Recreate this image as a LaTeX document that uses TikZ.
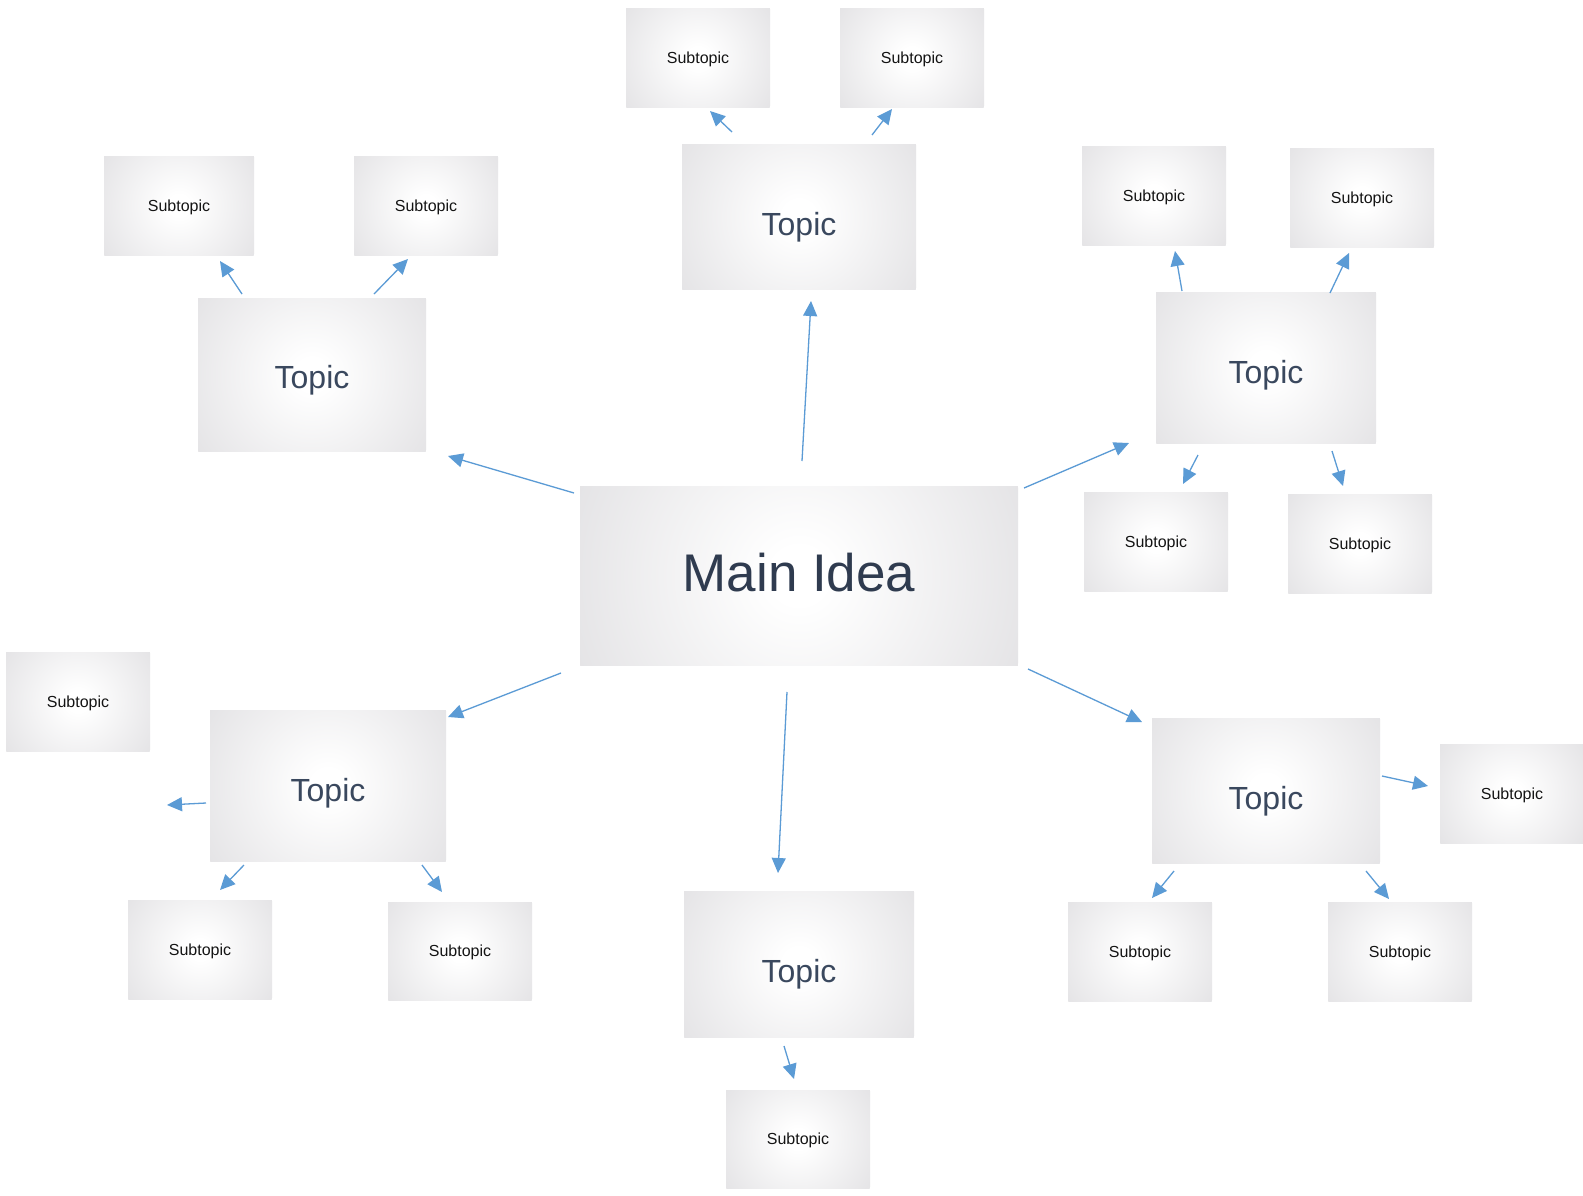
\documentclass[tikz,border=0pt]{standalone}
\usepackage{fontspec}
\setmainfont{Liberation Sans}
\usetikzlibrary{arrows.meta,calc}
\definecolor{boxgray}{RGB}{218,217,220}
\definecolor{arrowblue}{RGB}{91,155,213}
\definecolor{topictext}{RGB}{58,72,94}
\definecolor{maintext}{RGB}{47,59,79}
\definecolor{subtext}{RGB}{20,20,20}
\pgfdeclareradialshading{boxshade}{\pgfpoint{0bp}{0bp}}{color(0bp)=(white); color(3bp)=(white); color(34bp)=(boxgray); color(50bp)=(boxgray)}
\tikzset{
  shadedbox/.style={rectangle, inner sep=0pt, draw=none,
    path picture={\shade[shading=boxshade]
      let \p1=(path picture bounding box.north east),
          \p2=(path picture bounding box.center),
          \n1={veclen(\x1-\x2,\y1-\y2)} in (\p2) circle[radius=\n1];}},
  subbox/.style={shadedbox, minimum width=144pt, minimum height=99pt,
    font=\fontsize{16}{19}\selectfont, text=subtext, text height=11.5pt, text depth=0pt},
  topicbox/.style={shadedbox, font=\fontsize{32}{38}\selectfont, text=topictext,
    text height=33.9pt, text depth=0pt},
  mainbox/.style={shadedbox, minimum width=438pt, minimum height=179pt,
    font=\fontsize{53}{62}\selectfont, text=maintext, text height=37.9pt, text depth=5pt},
  link/.style={draw=arrowblue, line width=1.3pt, -{Triangle[length=15pt,width=14pt]}},
}
\begin{document}
\begin{tikzpicture}[x=1pt,y=-1pt]
\useasboundingbox (0,0) rectangle (1583,1195);
\fill[white] (0,0) rectangle (1583,1195);

% main
\node[mainbox] (main) at (799,575.5) {Main Idea};

% top topic
\node[topicbox, minimum width=234pt, minimum height=145pt, text height=37pt] (t1) at (799,216.5) {Topic};
\node[subbox] (t1a) at (698,57.5) {Subtopic};
\node[subbox] (t1b) at (912,57.5) {Subtopic};

% top-left topic
\node[topicbox, minimum width=228pt, minimum height=153pt, text height=28pt] (t2) at (312,374.5) {Topic};
\node[subbox, minimum width=150pt] (t2a) at (179,205.5) {Subtopic};
\node[subbox] (t2b) at (426,205.5) {Subtopic};

% top-right topic
\node[topicbox, minimum width=220pt, minimum height=151pt, text height=31pt] (t3) at (1266,367.5) {Topic};
\node[subbox] (t3a) at (1154,195.5) {Subtopic};
\node[subbox] (t3b) at (1362,197.5) {Subtopic};
\node[subbox] (t3c) at (1156,541.5) {Subtopic};
\node[subbox] (t3d) at (1360,543.5) {Subtopic};

% bottom-right topic
\node[topicbox, minimum width=228pt, minimum height=145pt, text height=38pt] (t4) at (1266,790.5) {Topic};
\node[subbox] (t4a) at (1512,793.5) {Subtopic};
\node[subbox] (t4b) at (1140,951.5) {Subtopic};
\node[subbox] (t4c) at (1400,951.5) {Subtopic};

% bottom topic
\node[topicbox, minimum width=230pt, minimum height=146pt, text height=37pt] (t5) at (799,964) {Topic};
\node[subbox, minimum height=98pt] (t5a) at (798,1139) {Subtopic};

% bottom-left topic
\node[topicbox, minimum width=236pt, minimum height=151pt, text height=31pt] (t6) at (328,785.5) {Topic};
\node[subbox] (t6a) at (78,701.5) {Subtopic};
\node[subbox] (t6b) at (200,949.5) {Subtopic};
\node[subbox, minimum height=98pt] (t6c) at (460,951) {Subtopic};

% connector end points
\coordinate (m1s) at (802,461);  \coordinate (m1e) at (811,301);
\coordinate (m2s) at (574,493);  \coordinate (m2e) at (448,456);
\coordinate (m3s) at (1024,488); \coordinate (m3e) at (1129,443);
\coordinate (m4s) at (1028,669); \coordinate (m4e) at (1142,722);
\coordinate (m5s) at (787,692);  \coordinate (m5e) at (778,873);
\coordinate (m6s) at (561,673);  \coordinate (m6e) at (448,717);

\coordinate (a1s) at (732,132);  \coordinate (a1e) at (710,111);
\coordinate (b1s) at (872,135);  \coordinate (b1e) at (892,109);
\coordinate (a2s) at (242,294);  \coordinate (a2e) at (220,261);
\coordinate (b2s) at (374,294);  \coordinate (b2e) at (408,259);
\coordinate (a3s) at (1182,291); \coordinate (a3e) at (1175,251);
\coordinate (b3s) at (1330,293); \coordinate (b3e) at (1349,253);
\coordinate (c3s) at (1198,455); \coordinate (c3e) at (1183,484);
\coordinate (d3s) at (1332,451); \coordinate (d3e) at (1343,486);
\coordinate (a4s) at (1382,776); \coordinate (a4e) at (1428,786);
\coordinate (b4s) at (1174,871); \coordinate (b4e) at (1152,898);
\coordinate (c4s) at (1366,871); \coordinate (c4e) at (1389,899);
\coordinate (a5s) at (784,1046); \coordinate (a5e) at (794,1079);
\coordinate (a6s) at (206,803);  \coordinate (a6e) at (167,805);
\coordinate (b6s) at (244,865);  \coordinate (b6e) at (220,890);
\coordinate (c6s) at (422,865);  \coordinate (c6e) at (442,892);

% connectors
\foreach \s/\e in {m1s/m1e,m2s/m2e,m3s/m3e,m4s/m4e,m5s/m5e,m6s/m6e,
                   a1s/a1e,b1s/b1e,a2s/a2e,b2s/b2e,a3s/a3e,b3s/b3e,c3s/c3e,d3s/d3e,
                   a4s/a4e,b4s/b4e,c4s/c4e,a5s/a5e,a6s/a6e,b6s/b6e,c6s/c6e}
  \draw[link] (\s) -- (\e);
\end{tikzpicture}
\end{document}
